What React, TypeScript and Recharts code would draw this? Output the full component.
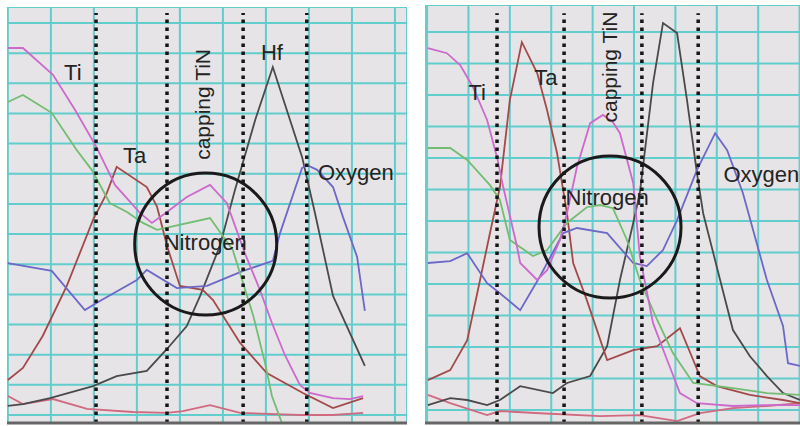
import React from 'react';
import { LineChart, Line, XAxis, YAxis, CartesianGrid, ReferenceLine, ReferenceDot } from 'recharts';

type Pair = [number, number];
const toPts = (a: Pair[]) => a.map(([d, v]) => ({ d, v }));

// ---- Left panel (depth units, intensity units; grid every 10) ----
const leftTi: Pair[] = [[0,121.7],[3.5,121.7],[10.5,112.8],[15.6,101.2],[20.7,88.6],[24.9,76.3],[30.7,67.0],[33.5,63.7],[37.0,67.3],[41.6,72.3],[47.0,76.3],[50.9,70.3],[55.1,53.7],[58.6,41.5],[61.4,30.5],[64.4,19.9],[67.9,10.0],[70.2,7.3],[75.6,5.6],[79.5,5.3],[82.6,6.3]];
const leftGreen: Pair[] = [[0,103.8],[3.5,106.1],[10.2,100.2],[16.0,87.9],[19.5,81.3],[23.7,70.3],[27.7,67.3],[31.4,63.7],[34.7,61.4],[47.0,65.3],[52.3,54.7],[57.0,33.2],[59.8,17.2],[61.4,6.3],[63.7,-2.6]];
const leftOxygen: Pair[] = [[0,50.4],[10.2,47.8],[17.9,34.8],[21.4,37.8],[30.0,44.8],[32.3,48.1],[39.3,42.1],[46.3,42.8],[54.7,47.8],[61.6,51.1],[63.3,60.4],[68.4,81.9],[69.5,82.9],[71.9,81.3],[75.6,75.6],[77.9,65.7],[81.2,52.4],[83.0,34.5]];
const leftHf: Pair[] = [[0,3.0],[3.5,3.6],[9.8,5.6],[19.8,9.6],[25.3,12.9],[32.3,14.6],[37.0,21.9],[41.6,29.5],[44.7,39.5],[49.3,56.1],[52.8,74.6],[57.5,97.8],[61.6,115.4],[68.4,85.6],[71.4,67.0],[75.6,39.5],[83.0,16.3]];
const leftTa: Pair[] = [[0,11.6],[3.5,15.6],[8.1,26.2],[13.7,42.8],[19.8,64.7],[23.0,73.6],[25.3,82.3],[32.3,75.6],[34.7,69.0],[37.0,56.1],[40.0,42.8],[45.3,41.5],[47.7,38.1],[54.0,23.9],[60.2,13.9],[68.6,7.3],[75.6,2.3],[82.6,5.6]];
const leftLow: Pair[] = [[0,6.3],[3.5,3.6],[10.5,5.3],[18.4,2.0],[29.1,1.0],[37.0,0.7],[40.7,1.3],[47.0,3.3],[54.0,0.7],[67.9,0],[75.6,0],[82.6,0.7]];

const leftDividers = [20.5, 37.0, 54.7, 69.5];
const leftDividerTop = 133.3;
const leftCircle = { d: 46.0, v: 56.7 };
const leftXTicks = [0, 10, 20, 30, 40, 50, 60, 70, 80, 90];
const leftYTicks = [0, 10, 20, 30, 40, 50, 60, 70, 80, 90, 100, 110, 120, 130];
const leftLabels = [
  { text: 'Ti', d: 15.1, v: 111.1, anchor: 'middle', rot: false },
  { text: 'Ta', d: 29.5, v: 83.6, anchor: 'middle', rot: false },
  { text: 'Hf', d: 61.4, v: 117.7, anchor: 'middle', rot: false },
  { text: 'Oxygen', d: 80.9, v: 77.9, anchor: 'middle', rot: false },
  { text: 'Nitrogen', d: 45.9, v: 54.7, anchor: 'middle', rot: false },
  { text: 'capping TiN', d: 45.3, v: 103.0, anchor: 'middle', rot: true },
];

// ---- Right panel ----
const rightTi: Pair[] = [[0.2,114.9],[4.8,113.3],[8.0,109.5],[11.1,102.5],[14.5,92.1],[16.9,80.3],[18.4,70.8],[21.7,52.1],[22.5,46.7],[26.6,41.3],[29.0,44.4],[32.1,54.0],[33.8,62.5],[36.2,77.1],[39.4,91.1],[42.5,93.7],[44.9,91.4],[46.6,87.9],[49.8,72.1],[51.4,48.9],[54.6,27.6],[58.0,15.9],[61.1,5.4],[65.2,2.2],[73.9,1.3],[82.1,1.6],[90.1,1.6]];
const rightGreen: Pair[] = [[0.2,83.2],[5.6,83.2],[9.7,79.4],[15.2,71.4],[17.6,66.7],[20.0,54.0],[25.6,48.9],[29.0,50.8],[33.8,59.4],[38.6,64.4],[41.8,65.1],[44.9,64.1],[48.3,54.0],[51.4,41.3],[55.6,28.6],[59.4,18.1],[64.3,8.6],[73.9,7.0],[82.1,5.4],[90.1,4.8]];
const rightOxygen: Pair[] = [[0.2,46.7],[5.6,47.3],[9.7,49.8],[14.5,40.3],[17.6,37.1],[22.5,31.7],[27.3,42.5],[32.9,56.2],[36.2,57.8],[43.5,56.2],[49.8,46.7],[53.1,45.7],[57.0,50.8],[60.4,60.3],[65.2,76.2],[69.6,87.9],[72.5,82.5],[76.3,68.9],[82.1,41.3],[86.0,26.7],[87.2,14.9],[90.1,14.0]];
const rightHf: Pair[] = [[0.2,1.6],[5.6,3.8],[9.7,3.2],[14.5,1.6],[17.6,3.2],[22.5,7.6],[30.4,5.4],[33.8,8.6],[39.4,10.8],[43.5,20.3],[46.6,41.3],[49.8,59.4],[51.4,68.9],[54.6,103.8],[57.0,122.9],[60.4,119.7],[62.8,98.4],[65.2,75.2],[66.7,62.5],[70.8,41.3],[73.9,25.4],[78.0,17.1],[82.1,10.8],[86.0,5.4],[90.1,3.2]];
const rightTa: Pair[] = [[0.2,9.5],[5.6,12.7],[9.7,22.2],[12.8,41.3],[15.2,56.2],[17.6,70.8],[20.0,98.4],[22.9,116.8],[26.6,107.0],[29.0,95.2],[31.4,81.6],[33.8,62.5],[35.3,46.7],[38.6,34.9],[43.5,15.9],[49.8,19.0],[55.6,20.3],[61.1,26.0],[64.3,15.9],[65.9,10.8],[70.0,7.6],[78.0,4.8],[86.0,3.2],[90.1,2.2]];
const rightLow: Pair[] = [[0.2,4.8],[5.6,2.2],[14.5,-1.6],[17.6,-0.3],[27.3,-1.0],[41.8,-1.9],[51.4,-1.6],[60.4,-3.5],[65.9,-1.0],[73.9,0.6],[82.1,1.3],[90.1,2.2]];

const rightDividers = [16.9, 33.1, 51.9, 65.5];
const rightDividerTop = 126.0;
const rightCircle = { d: 44.2, v: 58.1 };
const rightXTicks = [0, 10, 20, 30, 40, 50, 60, 70, 80, 90];
const rightYTicks = [0, 10, 20, 30, 40, 50, 60, 70, 80, 90, 100, 110, 120];
const rightLabels = [
  { text: 'Ti', d: 12.1, v: 98.4, anchor: 'middle', rot: false },
  { text: 'Ta', d: 28.7, v: 103.2, anchor: 'middle', rot: false },
  { text: 'capping TiN', d: 44.0, v: 108.9, anchor: 'middle', rot: true },
  { text: 'Oxygen', d: 71.6, v: 72.4, anchor: 'start', rot: false },
  { text: 'Nitrogen', d: 43.5, v: 65.1, anchor: 'middle', rot: false },
];

const FONT = '"Liberation Sans", Arial, Helvetica, sans-serif';
const COLORS = {
  ti: '#cc6acc',
  green: '#72bd72',
  oxygen: '#6b68c8',
  ta: '#a24a4a',
  hf: '#4a4a4a',
  low: '#d06a80',
};
const BG = '#e7e4e7';
const GRID = '#62cdcd';

type Label = { text: string; d: number; v: number; anchor: string; rot: boolean };

const makeText = (lab: Label) => (props: any) => {
  const { cx, cy } = props;
  return (
    <text
      x={cx}
      y={cy}
      textAnchor={lab.anchor as any}
      dominantBaseline={lab.rot ? 'central' : 'alphabetic'}
      transform={lab.rot ? `rotate(-90 ${cx} ${cy})` : undefined}
      fontFamily={FONT}
      fontSize={lab.rot ? 21 : 22}
      fill="#232323"
    >
      {lab.text}
    </text>
  );
};

const noTick = () => <g />;

type PanelProps = {
  left: number;
  top: number;
  width: number;
  height: number;
  xDomain: [number, number];
  yDomain: [number, number];
  xTicks: number[];
  yTicks: number[];
  series: { data: Pair[]; color: string }[];
  dividers: number[];
  dividerTop: number;
  circle: { d: number; v: number };
  labels: Label[];
};

const Panel = (p: PanelProps) => (
  <div style={{ position: 'absolute', left: p.left, top: p.top, width: p.width, height: p.height }}>
    <LineChart width={p.width} height={p.height} margin={{ top: 0, right: 0, bottom: 0, left: 0 }}>
      <CartesianGrid fill={BG} fillOpacity={1} stroke={GRID} strokeWidth={2} />
      <XAxis
        dataKey="d"
        type="number"
        domain={p.xDomain}
        ticks={p.xTicks}
        interval={0}
        tick={noTick}
        tickLine={false}
        height={2}
        axisLine={{ stroke: '#666', strokeWidth: 3 }}
        allowDataOverflow
      />
      <YAxis
        type="number"
        domain={p.yDomain}
        ticks={p.yTicks}
        interval={0}
        width={0}
        tick={noTick}
        tickLine={false}
        axisLine={false}
        allowDataOverflow
      />
      {p.series.map((s, i) => (
        <Line
          key={i}
          data={toPts(s.data)}
          dataKey="v"
          type="linear"
          stroke={s.color}
          strokeWidth={1.8}
          dot={false}
          activeDot={false}
          isAnimationActive={false}
        />
      ))}
      {p.dividers.map((x, i) => (
        <ReferenceLine
          key={'d' + i}
          segment={[{ x, y: p.yDomain[0] }, { x, y: p.dividerTop }]}
          stroke="#151515"
          strokeWidth={3.5}
          strokeDasharray="3.5 4.5"
        />
      ))}
      <ReferenceDot x={p.circle.d} y={p.circle.v} r={71} fill="none" stroke="#1a1a1a" strokeWidth={3} />
      {p.labels.map((lab, i) => (
        <ReferenceDot key={'l' + i} x={lab.d} y={lab.v} r={1} shape={makeText(lab)} />
      ))}
    </LineChart>
  </div>
);

export default function App() {
  return (
    <div style={{ position: 'absolute', left: 0, top: 0, width: 800, height: 426, background: '#ffffff', overflow: 'hidden' }}>
      <Panel
        left={7}
        top={7}
        width={400}
        height={418}
        xDomain={[-0.2, 92.8]}
        yDomain={[-2.65, 135.3]}
        xTicks={leftXTicks}
        yTicks={leftYTicks}
        series={[
          { data: leftLow, color: COLORS.low },
          { data: leftHf, color: COLORS.hf },
          { data: leftTa, color: COLORS.ta },
          { data: leftOxygen, color: COLORS.oxygen },
          { data: leftGreen, color: COLORS.green },
          { data: leftTi, color: COLORS.ti },
        ]}
        dividers={leftDividers}
        dividerTop={leftDividerTop}
        circle={leftCircle}
        labels={leftLabels}
      />
      <Panel
        left={425}
        top={5}
        width={375}
        height={420}
        xDomain={[-0.5, 90.1]}
        yDomain={[-4.1, 128.6]}
        xTicks={rightXTicks}
        yTicks={rightYTicks}
        series={[
          { data: rightLow, color: COLORS.low },
          { data: rightHf, color: COLORS.hf },
          { data: rightTa, color: COLORS.ta },
          { data: rightOxygen, color: COLORS.oxygen },
          { data: rightGreen, color: COLORS.green },
          { data: rightTi, color: COLORS.ti },
        ]}
        dividers={rightDividers}
        dividerTop={rightDividerTop}
        circle={rightCircle}
        labels={rightLabels}
      />
    </div>
  );
}
